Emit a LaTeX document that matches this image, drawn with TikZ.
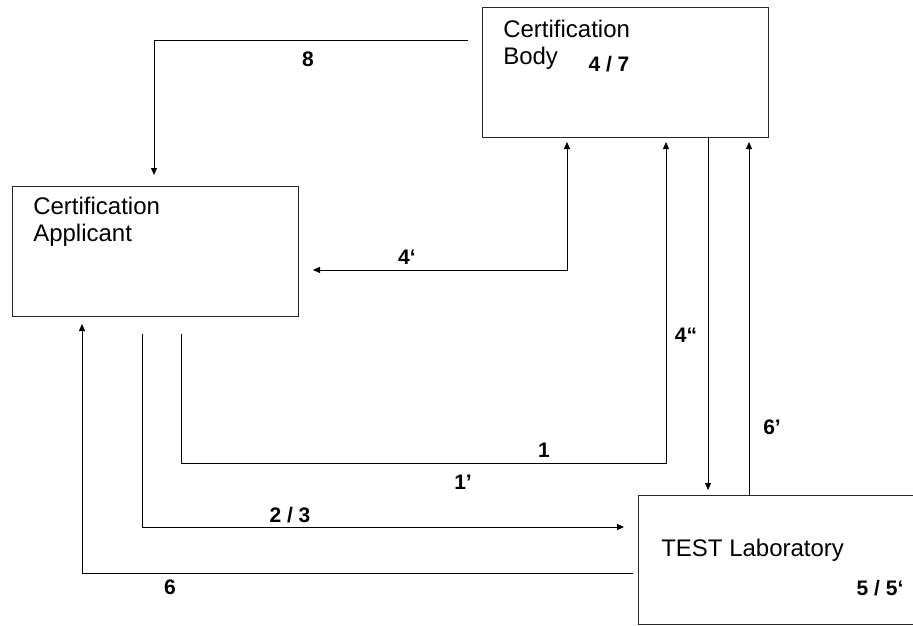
\documentclass[tikz,border=0pt]{standalone}
\usepackage{fontspec}
\setmainfont{Liberation Sans}
\usetikzlibrary{arrows.meta,calc}
\begin{document}
\begin{tikzpicture}[x=0.75pt,y=-0.75pt,
  box/.style={draw=black!85,line width=0.75pt,rectangle,inner sep=0pt,anchor=north west},
  title/.style={inner sep=0pt,align=left,font=\fontsize{18}{20.25}\selectfont},
  lbl/.style={inner sep=0pt,font=\fontsize{15.75}{18}\selectfont\bfseries},
  conn/.style={draw=black,line width=0.75pt},
  arr/.style={conn,-{Triangle[length=5.25pt,width=4.5pt]}},
  arrboth/.style={conn,{Triangle[length=5.25pt,width=4.5pt]}-{Triangle[length=5.25pt,width=4.5pt]}}]
\useasboundingbox (0,0) rectangle (913,625);
\clip (0,0) rectangle (913,625);
% boxes
\node[box,minimum width=214.5pt,minimum height=97.5pt] (cb) at (482,7) {};
\node[box,minimum width=214.5pt,minimum height=97.5pt] (ca) at (12,186) {};
\node[box,minimum width=210pt,minimum height=96.75pt] (tl) at (638,495) {};
% box texts (base anchor = baseline of the last line)
\node[title,anchor=base west] (cbt) at (503,64) {Certification\\Body};
\node[title,anchor=base west] (cat) at (33,241) {Certification\\Applicant};
\node[title,anchor=base west] (tlt) at (661,556) {TEST Laboratory};
\node[lbl] (l47) at (609,64) {4 / 7};
\node[lbl] (l55) at (880,588) {5 / 5‘};
% connector end points
\coordinate (e8a) at ($(cb.north west)+(-14,33)$);
\coordinate (e8b) at ($(ca.north west)+(142,-11)$);
\coordinate (e4a) at ($(ca.north east)+(14,84)$);
\coordinate (e4b) at ($(cb.south west)+(85,4)$);
\coordinate (e1a) at ($(ca.south west)+(169,17)$);
\coordinate (e1k) at ($(cb.south west)+(184,325)$);
\coordinate (e1b) at ($(cb.south west)+(184,4)$);
\coordinate (e2a) at ($(ca.south west)+(130,17)$);
\coordinate (e2b) at ($(tl.north west)+(-14,32)$);
\coordinate (e6a) at ($(tl.north west)+(-5,78)$);
\coordinate (e6b) at ($(ca.south west)+(70,7)$);
\coordinate (e44a) at ($(cb.south west)+(226,0)$);
\coordinate (e44b) at ($(tl.north west)+(70,-5)$);
\coordinate (e66a) at ($(tl.north west)+(111,0)$);
\coordinate (e66b) at ($(cb.south west)+(267,4)$);
% connectors
\draw[arr] (e8a) -| (e8b);
\draw[arrboth] (e4a) -| (e4b);
\draw[arr] (e1a) |- (e1k) -- (e1b);
\draw[arr] (e2a) |- (e2b);
\draw[arr] (e6a) -| (e6b);
\draw[arr] (e44a) -- (e44b);
\draw[arr] (e66a) -- (e66b);
% connector labels
\node[lbl] (l8) at (308,59) {8};
\node[lbl] (l4p) at (407,257) {4‘};
\node[lbl] (l4pp) at (686,335) {4“};
\node[lbl] (l1) at (544,450) {1};
\node[lbl] (l1p) at (463,482) {1’};
\node[lbl] (l23) at (290,515) {2 / 3};
\node[lbl] (l6) at (170,587) {6};
\node[lbl] (l6p) at (772,427) {6’};
\end{tikzpicture}
\end{document}
